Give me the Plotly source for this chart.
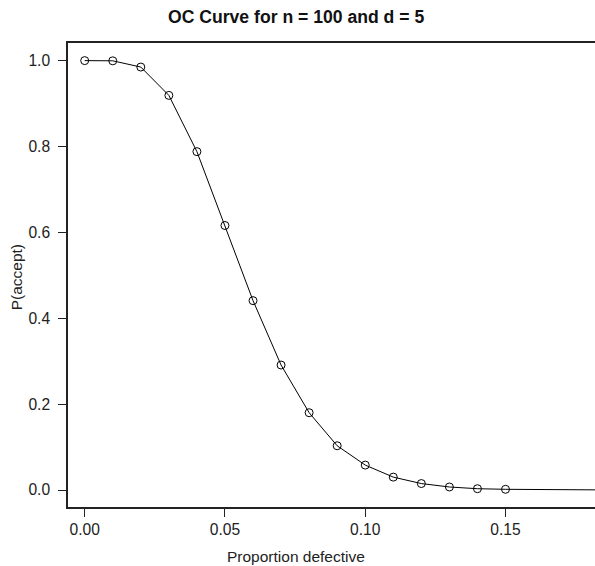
import plotly.graph_objects as go

# proportion defective and probability of acceptance
p_defective = [0.00, 0.01, 0.02, 0.03, 0.04, 0.05, 0.06, 0.07,
               0.08, 0.09, 0.10, 0.11, 0.12, 0.13, 0.14, 0.15]
p_accept = [1.000, 0.9995, 0.985, 0.919, 0.788, 0.616, 0.441, 0.291,
            0.180, 0.103, 0.058, 0.030, 0.015, 0.007, 0.003, 0.0016]

# the curve keeps going past the last point to the cropped right edge
p_line_extra = [0.16, 0.17, 0.18, 0.19]
acc_line_extra = [0.0007, 0.0003, 0.0001, 0.0]

x_ticks = [0.00, 0.05, 0.10, 0.15]
x_tick_text = ["0.00", "0.05", "0.10", "0.15"]
y_ticks = [0.0, 0.2, 0.4, 0.6, 0.8, 1.0]
y_tick_text = ["0.0", "0.2", "0.4", "0.6", "0.8", "1.0"]

font = "Liberation Sans, Arial, Helvetica, sans-serif"

fig = go.Figure()
fig.add_trace(go.Scatter(
    x=p_defective + p_line_extra, y=p_accept + acc_line_extra,
    mode="lines", line=dict(color="black", width=1), hoverinfo="skip"))
fig.add_trace(go.Scatter(
    x=p_defective, y=p_accept, mode="markers",
    marker=dict(symbol="circle-open", size=8, color="black",
                line=dict(width=1, color="black"))))

fig.update_layout(
    width=595, height=566,
    margin=dict(l=68, r=0, t=43, b=59),
    paper_bgcolor="white", plot_bgcolor="white",
    showlegend=False,
    font=dict(family=font, size=15.6, color="#222"),
    annotations=[
        dict(text="<b>OC Curve for n = 100 and d = 5</b>", xref="paper", yref="paper",
             x=(295.5 - 68) / 527, y=1, xanchor="center", yanchor="middle", yshift=26,
             showarrow=False, font=dict(size=17.6, color="#111")),
        dict(text="Proportion defective", xref="paper", yref="paper",
             x=(296 - 68) / 527, y=0, xanchor="center", yanchor="middle", yshift=-49,
             showarrow=False, font=dict(size=15.5, color="#222")),
        dict(text="P(accept)", xref="paper", yref="paper", textangle=-90,
             x=0, xanchor="center", xshift=-52, y=0.495, yanchor="middle",
             showarrow=False, font=dict(size=15.5, color="#222")),
    ],
)

fig.update_xaxes(
    range=[-0.00595, 0.1819], tickvals=x_ticks, ticktext=x_tick_text,
    showgrid=False, zeroline=False, showline=True, mirror=True,
    linecolor="#222", linewidth=1.5, ticks="outside", ticklen=8,
    tickcolor="#222", tickwidth=1)
fig.update_yaxes(
    range=[-0.0396, 1.041], tickvals=y_ticks, ticktext=y_tick_text,
    showgrid=False, zeroline=False, showline=True,
    linecolor="#222", linewidth=1.5, ticks="outside", ticklen=8,
    tickcolor="#222", tickwidth=1, ticklabelstandoff=5)

# drop the browser's default body margin so the figure fills the window
fig.write_html("out.html", config={"displayModeBar": False},
               post_script="document.body.style.margin='0';document.body.style.overflow='hidden';")
